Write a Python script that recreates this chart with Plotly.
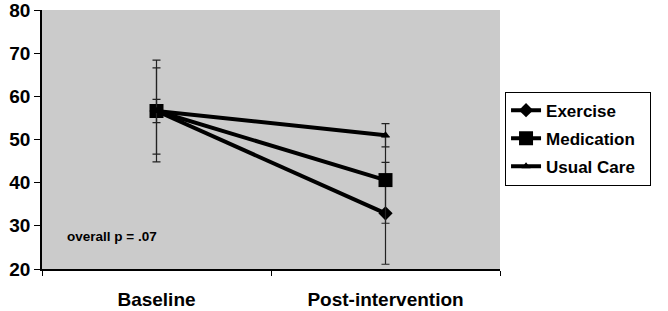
import plotly.graph_objects as go

categories = ["Baseline", "Post-intervention"]
exercise = [56.6, 32.9]
medication = [56.6, 40.6]
usual_care = [56.6, 51.0]
exercise_sd = [11.8, 11.8]
medication_sd = [10.0, 10.0]
usual_care_sd = [2.7, 2.7]
y_ticks = [20, 30, 40, 50, 60, 70, 80]

FONT = "Arial, Liberation Sans, sans-serif"
PAD = "\u00a0\u00a0"

fig = go.Figure()
series = [
    ("Exercise", exercise, exercise_sd, "diamond", 11),
    ("Medication", medication, medication_sd, "square", 14),
    ("Usual Care", usual_care, usual_care_sd, "triangle-up", 8),
]
for name, vals, sd, sym, size in series:
    fig.add_trace(go.Scatter(
        x=categories, y=vals, name=name + PAD, legendgroup=name,
        mode="lines+markers",
        line=dict(color="black", width=4),
        marker=dict(symbol=sym, size=size, color="black"),
        error_y=dict(type="data", array=sd, visible=True, color="#222222",
                     thickness=1.2, width=4),
    ))

fig.add_annotation(x=0.153, xref="paper", y=27.6, yref="y",
                   xanchor="center",
                   text="<b>overall p = .07</b>", showarrow=False,
                   font=dict(family=FONT, size=13.5, color="black"))

fig.update_layout(
    width=668, height=311,
    margin=dict(l=42, r=168, t=10, b=42),
    paper_bgcolor="white", plot_bgcolor="#CBCBCB",
    font=dict(family=FONT, color="black"),
    showlegend=True,
    legend=dict(x=1.011, y=0.685, xanchor="left", yanchor="top",
                bordercolor="black", borderwidth=1, bgcolor="white",
                font=dict(family=FONT, size=17, color="black", weight="bold"),
                tracegroupgap=3),
    xaxis=dict(showgrid=False, zeroline=False, showline=True,
               range=[-0.5, 1.5], automargin=False,
               linecolor="black", linewidth=1.5,
               ticks="outside", ticklen=5, tickcolor="black",
               tickson="boundaries", ticklabelstandoff=12,
               tickfont=dict(family=FONT, size=19, weight="bold")),
    yaxis=dict(range=[20, 80], tickvals=y_ticks, showgrid=False,
               automargin=False, ticklabeloverflow="allow",
               zeroline=False, showline=True, linecolor="black", linewidth=1.5,
               ticks="outside", ticklen=6, tickcolor="black",
               tickfont=dict(family=FONT, size=19, weight="bold")),
)

fig.write_html("out.html",
               config={"displayModeBar": False},
               post_script="document.body.style.margin='0';"
                           "document.body.style.overflow='hidden';")
